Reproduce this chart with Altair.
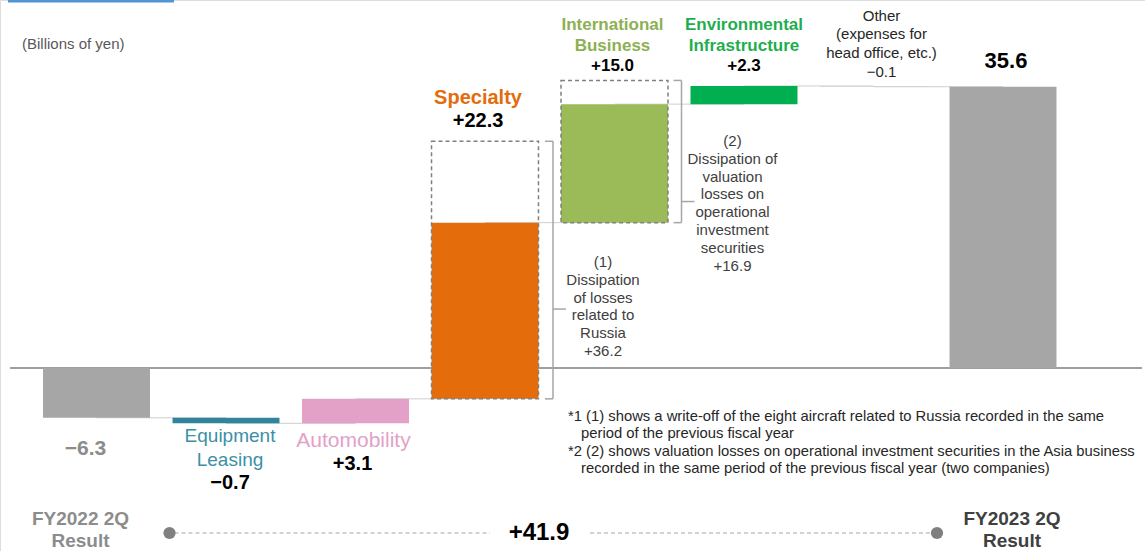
import altair as alt
import pandas as pd

# ---------------- data ----------------
categories = ["FY2022 2Q", "Equipment Leasing", "Automobility", "Specialty",
              "International Business", "Environmental Infrastructure", "Other", "FY2023 2Q"]
deltas = [-6.3, -0.7, 3.1, 22.3, 15.0, 2.3, -0.1, 35.6]   # first/last are totals
is_total = [True, False, False, False, False, False, False, True]
bar_colors = ["#a6a6a6", "#31849b", "#e3a1c8", "#e46c0a", "#9bbb59", "#00b050", "#d0d0d0", "#a6a6a6"]

# dashed "before dissipation" boxes (Specialty, International Business)
box_cats = ["Specialty", "International Business"]
box_high = [28.7, 36.4]
box_notes = ["(1)\nDissipation\nof losses\nrelated to\nRussia\n+36.2",
             "(2)\nDissipation of\nvaluation\nlosses on\noperational\ninvestment\nsecurities\n+16.9"]

total_change = 41.9
footnote_heads = ["*1 (1) shows  a write-off of the eight aircraft related to Russia recorded in the same",
                  "*2 (2) shows  valuation losses on operational investment securities in the Asia business"]
footnote_tails = ["period of the previous fiscal year",
                  "recorded in the same period of the previous fiscal year (two companies)"]

# ---------------- build tables ----------------
rows = []
level = 0.0
for c, d, t in zip(categories, deltas, is_total):
    if t:
        start, end = 0.0, d
    else:
        start, end = level, round(level + d, 1)
    level = end
    sign = "+" if d > 0 else "\u2212"
    vt = (f"{abs(d):.1f}" if (t and d > 0) else f"{sign}{abs(d):.1f}")
    rows.append(dict(cat=c, start=start, end=end, lo=min(start, end), hi=max(start, end), vtext=vt))
df = pd.DataFrame(rows)
df["next_cat"] = categories[1:] + [categories[-1]]

box_df = pd.DataFrame({
    "cat": box_cats,
    "low": [df.loc[df.cat == c, "start"].iloc[0] for c in box_cats],
    "high": box_high,
    "note": box_notes,
})
box_df["mid"] = (box_df["low"] + box_df["high"]) / 2

bottom_df = pd.DataFrame({"left": [categories[0]], "right": [categories[-1]],
                          "label": [f"+{total_change:.1f}"], "mid": [categories[3]]})

FONT = "Liberation Sans"
W, H = 1145, 551

x_scale = alt.Scale(domain=categories, range=[31.75, 1067.75], paddingInner=0.174, paddingOuter=0.087)
y_scale = alt.Scale(domain=[-23.16, 46.58], nice=False, zero=False)
X = alt.X("cat:N", scale=x_scale, axis=None)


def Y(field):
    return alt.Y(f"{field}:Q", scale=y_scale, axis=None)


base = alt.Chart(df)

zero_line = alt.Chart(pd.DataFrame({"z": [0.0]})).mark_rule(color="#7f7f7f", strokeWidth=1.5).encode(
    y=Y("z"), x=alt.value(10), x2=alt.value(1142))

connectors = base.transform_filter(alt.datum.cat != categories[-1]).mark_rule(
    color="#cfcfcf", strokeWidth=1).encode(
    x=X, x2="next_cat:N", y=Y("end"))

bars = base.mark_bar().encode(
    x=X, y=Y("lo"), y2="hi:Q",
    color=alt.Color("cat:N", scale=alt.Scale(domain=categories, range=bar_colors), legend=None))

boxes = alt.Chart(box_df).mark_bar(fillOpacity=0, stroke="#808080", strokeDash=[4, 3], strokeWidth=1.5).encode(
    x=alt.X("cat:N", scale=x_scale, axis=None), y=Y("low"), y2="high:Q")

# brackets
br_color = "#a6a6a6"
BX = alt.X("cat:N", scale=x_scale, axis=None)
br_layers = []
for c, vert_off, tick_dy, note_dy in [("Specialty", 68, 39, -8), ("International Business", 67, 50, -10.5)]:
    b = alt.Chart(box_df).transform_filter(alt.datum.cat == c)
    br_layers.append(b.mark_rule(color=br_color, strokeWidth=1.5, xOffset=vert_off).encode(
        x=BX, y=Y("low"), y2="high:Q"))
    br_layers.append(b.mark_rule(color=br_color, strokeWidth=1.5, xOffset=vert_off - 8, x2Offset=vert_off).encode(
        x=BX, x2="cat:N", y=Y("low")))
    br_layers.append(b.mark_rule(color=br_color, strokeWidth=1.5, xOffset=vert_off - 8, x2Offset=vert_off).encode(
        x=BX, x2="cat:N", y=Y("high")))
    br_layers.append(b.mark_rule(color=br_color, strokeWidth=1.5, xOffset=vert_off, x2Offset=vert_off + 13,
                                 yOffset=tick_dy).encode(x=BX, x2="cat:N", y=Y("mid")))
    br_layers.append(b.mark_text(font=FONT, fontSize=15, lineHeight=17.8, lineBreak="\n", color="#404040",
                                 align="center", baseline="middle", dx=118, dy=note_dy).encode(
        x=BX, y=Y("mid"), text="note:N"))


def txt(cat, field, ytxt, dx=0, dy=0, size=17, weight="bold", color="#000000", line_h=None):
    kw = dict(font=FONT, fontSize=size, fontWeight=weight, color=color, align="center",
              baseline="middle", dx=dx, dy=dy, lineBreak="\n")
    if line_h:
        kw["lineHeight"] = line_h
    src = box_df if field in ("high",) else df
    return alt.Chart(src).transform_filter(alt.datum.cat == cat).mark_text(**kw).encode(
        x=BX, y=Y(field), text=alt.Text(ytxt) if not ytxt.startswith("=") else alt.value(ytxt[1:]))


labels = [
    # FY2022
    txt("FY2022 2Q", "lo", "vtext:N", dx=-11, dy=31, size=21, color="#8c8c8c"),
    # Equipment Leasing
    txt("Equipment Leasing", "lo", "=Equipment\nLeasing", dx=4, dy=13, size=19, weight="normal",
        color="#3c8fa5", line_h=24),
    txt("Equipment Leasing", "lo", "vtext:N", dx=4, dy=60, size=20),
    # Automobility
    txt("Automobility", "lo", "=Automobility", dx=-2, dy=18, size=21, weight="normal", color="#e3a1c8"),
    txt("Automobility", "lo", "vtext:N", dx=-3, dy=41, size=20),
    # Specialty
    txt("Specialty", "high", "=Specialty", dx=-7, dy=-43, size=20, color="#e46c0a"),
    txt("Specialty", "high", "=+22.3", dx=-7, dy=-20, size=20),
    # International Business
    txt("International Business", "high", "=International\nBusiness", dx=-2, dy=-55.5, size=17,
        color="#8db052", line_h=21),
    txt("International Business", "high", "=+15.0", dx=-2, dy=-14, size=17),
    # Environmental Infrastructure
    txt("Environmental Infrastructure", "hi", "=Environmental\nInfrastructure", dx=0, dy=-61, size=17,
        color="#1fae4f", line_h=21),
    txt("Environmental Infrastructure", "hi", "vtext:N", dx=0, dy=-20, size=17),
    # Other
    txt("Other", "hi", "=Other\n(expenses for\nhead office, etc.)", dx=8, dy=-70, size=15, weight="normal",
        color="#262626", line_h=18.5),
    txt("Other", "hi", "vtext:N", dx=8, dy=-14, size=15, weight="normal", color="#262626"),
    # FY2023
    txt("FY2023 2Q", "hi", "vtext:N", dx=3, dy=-26, size=22),
]

# bottom row
bb = alt.Chart(bottom_df)
bottom = [
    bb.mark_rule(color="#a6a6a6", strokeWidth=1.2, strokeDash=[4, 3], xOffset=78, x2Offset=5).encode(
        x=alt.X("left:N", scale=x_scale, axis=None), x2="mid:N", y=alt.value(533)),
    bb.mark_rule(color="#a6a6a6", strokeWidth=1.2, strokeDash=[4, 3], xOffset=105, x2Offset=-70).encode(
        x=alt.X("mid:N", scale=x_scale, axis=None), x2="right:N", y=alt.value(533)),
    bb.mark_circle(color="#808080", opacity=1, size=150, xOffset=73).encode(
        x=alt.X("left:N", scale=x_scale, axis=None), y=alt.value(533)),
    bb.mark_circle(color="#808080", opacity=1, size=150, xOffset=-66).encode(
        x=alt.X("right:N", scale=x_scale, axis=None), y=alt.value(533)),
    bb.mark_text(font=FONT, fontSize=24, fontWeight="bold", color="#000000", align="center",
                 baseline="middle", dx=54).encode(
        x=alt.X("mid:N", scale=x_scale, axis=None), y=alt.value(533), text="label:N"),
    bb.mark_text(font=FONT, fontSize=19, fontWeight="bold", color="#8c8c8c", align="center",
                 baseline="middle", dx=-16, lineBreak="\n", lineHeight=22).encode(
        x=alt.X("left:N", scale=x_scale, axis=None), y=alt.value(519),
        text=alt.value("FY2022 2Q\nResult")),
    bb.mark_text(font=FONT, fontSize=19, fontWeight="bold", color="#404040", align="center",
                 baseline="middle", dx=9, lineBreak="\n", lineHeight=22).encode(
        x=alt.X("right:N", scale=x_scale, axis=None), y=alt.value(519),
        text=alt.value("FY2023 2Q\nResult")),
]

misc = [
    alt.Chart(pd.DataFrame({"t": ["(Billions of yen)"]})).mark_text(
        font=FONT, fontSize=15, color="#595959", align="left", baseline="middle").encode(
        x=alt.value(22), y=alt.value(44), text="t:N"),
    alt.Chart(pd.DataFrame({"t": ["\n".join(footnote_heads)]})).mark_text(
        font=FONT, fontSize=14.8, color="#262626", align="left", baseline="middle",
        lineBreak="\n", lineHeight=34.8).encode(
        x=alt.value(568), y=alt.value(417), text="t:N"),
    alt.Chart(pd.DataFrame({"t": ["\n".join(footnote_tails)]})).mark_text(
        font=FONT, fontSize=14.8, color="#262626", align="left", baseline="middle",
        lineBreak="\n", lineHeight=34.8).encode(
        x=alt.value(581), y=alt.value(434.4), text="t:N"),
    alt.Chart(pd.DataFrame({"t": [""]})).mark_rule(color="#4f94d4", strokeWidth=3).encode(
        x=alt.value(8), x2=alt.value(174), y=alt.value(1)),
]

chart = alt.layer(zero_line, connectors, bars, boxes, *br_layers, *labels, *bottom, *misc).properties(
    width=W, height=H, autosize=alt.AutoSizeParams(type="none"), padding=0
).configure_view(stroke=None).configure(background="white")

chart.save("out.html", embed_options={"renderer": "svg", "actions": False})
